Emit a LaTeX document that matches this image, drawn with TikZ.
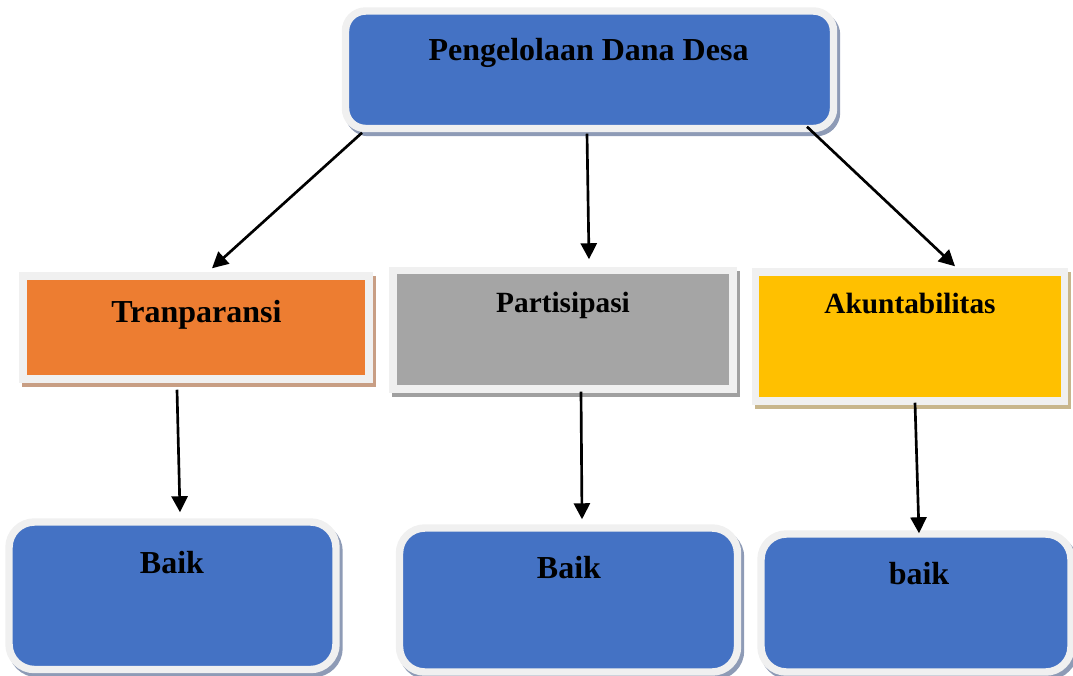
\documentclass[tikz,border=0pt]{standalone}
\usepackage{fontspec}
\setmainfont{Liberation Serif}
\definecolor{boxblue}{RGB}{68,114,196}
\definecolor{blueshade}{RGB}{142,155,182}
\definecolor{boxorange}{RGB}{237,125,49}
\definecolor{orangeshade}{RGB}{200,158,132}
\definecolor{boxgray}{RGB}{165,165,165}
\definecolor{grayshade}{RGB}{160,160,160}
\definecolor{boxyellow}{RGB}{255,192,0}
\definecolor{yellowshade}{RGB}{200,182,140}
\definecolor{rimgray}{RGB}{240,240,240}
\usetikzlibrary{arrows.meta, calc}

\begin{document}
\begin{tikzpicture}[x=0.75pt, y=-0.75pt,
    box/.style 2 args={fill=#1, draw=rimgray, line width=5.6pt, inner sep=0pt,
      preaction={fill=#2, draw=#2, transform canvas={xshift=2.25pt, yshift=-3pt}}},
    lbl/.style={font=\fontsize{24}{28}\selectfont\bfseries, anchor=base, inner sep=0pt},
    lblsmall/.style={lbl, font=\fontsize{22}{26}\selectfont\bfseries},
    arr/.style={line width=2pt, -{Triangle[length=12pt, width=12pt]}}]
  \useasboundingbox (0,0) rectangle (1073,675);

  % top
  \node[box={boxblue}{blueshade}, rounded corners=15pt,
        minimum width=488*0.75pt, minimum height=117.5*0.75pt] (dana) at (589.5,69.75) {};
  \node[lbl] (danaT) at (588.5,60) {Pengelolaan Dana Desa};

  % middle row
  \node[box={boxorange}{orangeshade}, minimum width=346*0.75pt,
        minimum height=103*0.75pt] (tran) at (196,327.5) {};
  \node[box={boxgray}{grayshade}, minimum width=340*0.75pt,
        minimum height=118.5*0.75pt] (part) at (563,329.75) {};
  \node[box={boxyellow}{yellowshade}, minimum width=309*0.75pt,
        minimum height=129*0.75pt] (akun) at (910,336.5) {};
  \node[lbl] (tranT) at (196.5,322) {Tranparansi};
  \node[lblsmall] (partT) at (563,312) {Partisipasi};
  \node[lblsmall] (akunT) at (910,313) {Akuntabilitas};

  % bottom row
  \node[box={boxblue}{blueshade}, rounded corners=19pt, minimum width=327*0.75pt,
        minimum height=147.5*0.75pt] (baikA) at (172.5,595.75) {};
  \node[box={boxblue}{blueshade}, rounded corners=19pt, minimum width=338*0.75pt,
        minimum height=144*0.75pt] (baikB) at (568.5,600) {};
  \node[box={boxblue}{blueshade}, rounded corners=19pt, minimum width=310*0.75pt,
        minimum height=138*0.75pt] (baikC) at (916,603) {};
  \node[lbl] (baikAT) at (172,573) {Baik};
  \node[lbl] (baikBT) at (569,578) {Baik};
  \node[lbl] (baikCT) at (919,584) {baik};

  % arrows
  \draw[arr] ($(dana.south)+(-227.5,0.5)$) -- ($(tran.north)+(16,-4)$);
  \draw[arr] ($(dana.south)+(-2.5,1.5)$) -- ($(part.north)+(26,-7.5)$);
  \draw[arr] ($(dana.south)+(217.5,-5.5)$) -- ($(akun.north)+(45,-2)$);
  \draw[arr] ($(tran.south)+(-19,7)$) -- ($(baikA.north)+(7.5,-6)$);
  \draw[arr] ($(part.south)+(18,-1)$) -- ($(baikB.north)+(13.5,-5)$);
  \draw[arr] ($(akun.south)+(5,-2)$) -- ($(baikC.north)+(3,3)$);
\end{tikzpicture}
\end{document}
